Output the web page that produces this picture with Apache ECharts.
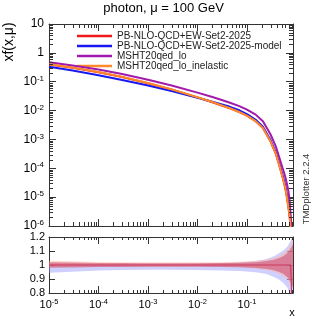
<!DOCTYPE html>
<html><head><meta charset="utf-8">
<script src="https://cdn.jsdelivr.net/npm/echarts@6/dist/echarts.min.js"></script>
<style>html,body{margin:0;padding:0;background:#fff}#c{width:327px;height:319px}</style>
</head><body><div id="c"></div>
<script>
// ---- data ----
const seriesNames = ['PB-NLO-QCD+EW-Set2-2025', 'PB-NLO-QCD+EW-Set2-2025-model', 'MSHT20qed_lo', 'MSHT20qed_lo_inelastic'];
const xValues = [1e-5, 3e-5, 1e-4, 3e-4, 1e-3, 3e-3, 1e-2, 0.02, 0.03, 0.0454, 0.07, 0.1, 0.15, 0.21, 0.3, 0.38, 0.46, 0.52, 0.56, 0.6, 0.634, 0.68, 0.72, 0.76, 0.8, 0.85];
const redPB = [0.397, 0.305, 0.214, 0.1455, 0.089, 0.0537, 0.0287, 0.0195, 0.0153, 0.01188, 0.00886, 0.00666, 0.00427, 0.00249, 8.4e-4, 3.3e-4, 1.11e-4, 5.2e-5, 3.16e-5, 1.9e-5, 1.12e-5, 5.1e-6, 2.6e-6, 1.0e-6, 3.2e-7, 4e-8];
const bluePBmodel = [0.331, 0.244, 0.168, 0.1156, 0.0736, 0.0471, 0.0278, 0.0201, 0.01656, 0.01349, 0.01023, 0.00759, 0.00479, 0.00275, 9.3e-4, 3.6e-4, 1.26e-4, 6.0e-5, 3.7e-5, 2.3e-5, 1.35e-5, 6.3e-6, 3.2e-6, 1.12e-6, 3.2e-7, 3.2e-8];
const purpleMSHT = [0.471, 0.367, 0.264, 0.1845, 0.1175, 0.0738, 0.0419, 0.0294, 0.0236, 0.01875, 0.01426, 0.01072, 0.00724, 0.00427, 0.00148, 5.9e-4, 2.09e-4, 1.07e-4, 7.1e-5, 4.7e-5, 3.16e-5, 1.78e-5, 8.9e-6, 2.8e-6, 6.3e-7, 3.2e-8];
const orangeMSHTinel = [0.401, 0.308, 0.216, 0.147, 0.0899, 0.0542, 0.0290, 0.0197, 0.0155, 0.0120, 0.00895, 0.00673, 0.00431, 0.00251, 8.5e-4, 3.3e-4, 1.12e-4, 5.2e-5, 3.16e-5, 1.9e-5, 1.12e-5, 5.0e-6, 2.5e-6, 8.9e-7, 2.5e-7, 3.2e-8];

const ratioX = [1e-5, 3e-5, 1e-4, 3e-4, 1e-3, 3e-3, 1e-2, 3e-2, 0.07, 0.15, 0.25, 0.35, 0.45, 0.55, 0.65, 0.73, 0.8, 0.85];
const blueBandHi = [1.012, 1.010, 1.008, 1.007, 1.007, 1.008, 1.010, 1.013, 1.018, 1.028, 1.042, 1.062, 1.085, 1.105, 1.13, 1.16, 1.19, 1.2];
const blueBandLo = [0.945, 0.952, 0.960, 0.964, 0.966, 0.966, 0.964, 0.961, 0.957, 0.948, 0.935, 0.915, 0.895, 0.87, 0.84, 0.80, 0.80, 0.80];
const peachBandHi = [1.03, 1.026, 1.022, 1.02, 1.019, 1.019, 1.019, 1.02, 1.023, 1.03, 1.04, 1.052, 1.066, 1.085, 1.108, 1.135, 1.16, 1.18];
const peachBandLo = [0.985, 0.986, 0.987, 0.988, 0.988, 0.988, 0.988, 0.987, 0.985, 0.975, 0.965, 0.952, 0.938, 0.92, 0.9, 0.87, 0.84, 0.82];
const redBandHi = [1.019, 1.017, 1.015, 1.014, 1.013, 1.013, 1.013, 1.014, 1.016, 1.02, 1.028, 1.038, 1.05, 1.065, 1.085, 1.107, 1.13, 1.15];
const redBandLo = [0.981, 0.983, 0.985, 0.986, 0.987, 0.987, 0.987, 0.986, 0.984, 0.979, 0.972, 0.962, 0.95, 0.935, 0.915, 0.89, 0.86, 0.84];
const ratioLineX = [1e-5, 0.1, 0.5, 0.76, 0.785, 0.8];
const ratioLineY = [1, 1, 1, 1, 0.9, 0.7];

const xTickExps = [-5, -4, -3, -2, -1];
const yTickExps = [-6, -5, -4, -3, -2, -1, 0, 1];
const ratioTicks = [0.8, 0.9, 1, 1.1, 1.2];

// ---- config ----
const FONT = 'Liberation Sans, Arial, Helvetica, sans-serif';
const XMIN = -5, XMAX = -0.07, YMIN = -6, YMAX = 1;
const AX = '#333';
const colors = ['#f01818', '#1818f0', '#a21aac', '#ff8a2a'];
const L = Math.log10;

const supRich = {
  b: {fontSize: 12, fontFamily: FONT, color: '#000'},
  s: {fontSize: 8, fontFamily: FONT, color: '#000', verticalAlign: 'top', padding: [0, 0, 6, 0]}
};
function expLabel(v) {
  const r = Math.round(v);
  if (Math.abs(v - r) > 1e-6) return '';
  if (r === 1) return '{b|10}';
  if (r === 0) return '{b|1}';
  return '{b|10}{s|' + r + '}';
}

function baseAxis(extra) {
  return Object.assign({
    type: 'value',
    axisLine: {show: true, onZero: false, lineStyle: {color: AX, width: 1}},
    axisTick: {show: true, inside: true, length: 7, lineStyle: {color: AX}},
    splitLine: {show: false},
    axisLabel: {show: false}
  }, extra);
}

const xAxes = [
  baseAxis({gridIndex: 0, position: 'bottom', min: XMIN, max: XMAX, interval: 1}),
  baseAxis({gridIndex: 0, position: 'top', min: XMIN, max: XMAX, interval: 1}),
  baseAxis({gridIndex: 1, position: 'bottom', min: XMIN, max: XMAX, interval: 1,
    axisLabel: {show: true, margin: 5, formatter: expLabel, rich: {
      b: {fontSize: 11, fontFamily: FONT, color: '#000'},
      s: {fontSize: 7.5, fontFamily: FONT, color: '#000', verticalAlign: 'top', padding: [0, 0, 6, 0]}}}}),
  baseAxis({gridIndex: 1, position: 'top', min: XMIN, max: XMAX, interval: 1})
];
const yAxes = [
  baseAxis({gridIndex: 0, position: 'left', min: YMIN, max: YMAX, interval: 1,
    axisLabel: {show: true, margin: 5, formatter: expLabel, rich: supRich}}),
  baseAxis({gridIndex: 0, position: 'right', min: YMIN, max: YMAX, interval: 1}),
  baseAxis({gridIndex: 1, position: 'left', min: 0.8, max: 1.2, interval: 0.1,
    axisTick: {show: true, inside: true, length: 6, lineStyle: {color: AX}},
    axisLabel: {show: true, margin: 4, fontSize: 11, fontFamily: FONT, color: '#000',
      formatter: v => String(Math.round(v * 10) / 10)}}),
  baseAxis({gridIndex: 1, position: 'right', min: 0.8, max: 1.2, interval: 0.1,
    axisTick: {show: true, inside: true, length: 6, lineStyle: {color: AX}}})
];

// minor tick positions (log axes)
const minorX = [];
xTickExps.forEach(n => { for (let k = 2; k <= 9; k++) { const v = L(k) + n; if (v < XMAX) minorX.push([0, v]); } });
const minorY = [];
yTickExps.forEach(n => { for (let k = 2; k <= 9; k++) { const v = L(k) + n; if (v < YMAX) minorY.push([1, v]); } });

function tickRender(len) {
  return function (params, api) {
    const kind = api.value(0), v = api.value(1);
    const cs = params.coordSys;
    const st = {stroke: AX, lineWidth: 1};
    if (kind === 0) {
      const x = Math.round(api.coord([v, 0])[0]) + 0.5;
      return {type: 'group', children: [
        {type: 'line', shape: {x1: x, y1: cs.y + cs.height, x2: x, y2: cs.y + cs.height - len}, style: st},
        {type: 'line', shape: {x1: x, y1: cs.y, x2: x, y2: cs.y + len}, style: st}
      ]};
    } else {
      const y = Math.round(api.coord([XMIN, v])[1]) + 0.5;
      return {type: 'group', children: [
        {type: 'line', shape: {x1: cs.x, y1: y, x2: cs.x + len, y2: y}, style: st},
        {type: 'line', shape: {x1: cs.x + cs.width, y1: y, x2: cs.x + cs.width - len, y2: y}, style: st}
      ]};
    }
  };
}

function bandSeries(lo, hi, fill) {
  return {
    type: 'custom', xAxisIndex: 2, yAxisIndex: 2, silent: true, clip: true,
    data: [[-3, 1]],
    renderItem: function (params, api) {
      const pts = [];
      ratioX.forEach((x, i) => pts.push(api.coord([L(x), hi[i]])));
      for (let i = ratioX.length - 1; i >= 0; i--) pts.push(api.coord([L(ratioX[i]), lo[i]]));
      return {type: 'polygon', shape: {points: pts}, style: {fill: fill}};
    }
  };
}

const mainData = [redPB, bluePBmodel, purpleMSHT, orangeMSHTinel];
const lineSeries = mainData.map((arr, i) => ({
  name: seriesNames[i], type: 'line', xAxisIndex: 0, yAxisIndex: 0,
  data: xValues.map((x, j) => [L(x), L(arr[j])]),
  symbol: 'none', showSymbol: false, smooth: false, clip: true,
  color: colors[i], itemStyle: {color: colors[i]},
  lineStyle: {color: colors[i], width: 2, join: 'round'}, z: 3 + i
}));

const option = {
  animation: false,
  backgroundColor: '#fff',
  grid: [
    {left: 49, top: 24, width: 244, height: 202},
    {left: 49, top: 237, width: 244, height: 56}
  ],
  xAxis: xAxes, yAxis: yAxes,
  legend: {
    data: seriesNames, orient: 'vertical', left: 72, top: 26, itemGap: 0,
    icon: 'rect', itemWidth: 35, itemHeight: 2.5,
    textStyle: {fontSize: 10, fontFamily: FONT, color: '#222', lineHeight: 9.5},
    selectedMode: false
  },
  graphic: [
    {type: 'text', left: 'center', top: 2, style: {text: 'photon, \u03bc = 100 GeV', font: '13px ' + FONT, fill: '#000'}},
    {type: 'text', x: 9, y: 42, rotation: Math.PI / 2, style: {text: 'xf(x,\u03bc)', font: '14px ' + FONT, fill: '#000', align: 'center', verticalAlign: 'middle'}},
    {type: 'text', x: 306, y: 189, rotation: Math.PI / 2, style: {text: 'TMDplotter 2.2.4', font: '9.5px ' + FONT, fill: '#333', align: 'center', verticalAlign: 'middle'}},
    {type: 'text', x: 292, y: 313, style: {text: 'x', font: '11px ' + FONT, fill: '#000', align: 'center', verticalAlign: 'middle'}}
  ],
  series: [
    bandSeries(blueBandLo, blueBandHi, 'rgba(150,150,255,0.45)'),
    bandSeries(peachBandLo, peachBandHi, 'rgba(255,180,160,0.5)'),
    bandSeries(redBandLo, redBandHi, 'rgba(205,70,110,0.55)'),
    {type: 'line', xAxisIndex: 2, yAxisIndex: 2, symbol: 'none', clip: true,
      data: ratioLineX.map((x, i) => [L(x), ratioLineY[i]]),
      lineStyle: {color: '#c83a5a', width: 1.2}, z: 5},
    ...lineSeries,
    {type: 'custom', xAxisIndex: 0, yAxisIndex: 0, silent: true, data: minorX.concat(minorY), renderItem: tickRender(4), z: 10},
    {type: 'custom', xAxisIndex: 2, yAxisIndex: 2, silent: true, data: minorX, renderItem: tickRender(3), z: 10}
  ]
};
const chart = echarts.init(document.getElementById('c'), null, {renderer: 'canvas'});
chart.setOption(option);
</script>
</body></html>
